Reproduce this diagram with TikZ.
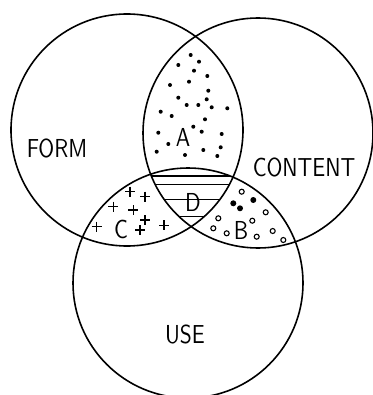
\documentclass[tikz,border=0pt]{standalone}
\usepackage{fontspec}
\newfontfamily\lettering[FakeStretch=0.83]{lmsans10-regular.otf}

\begin{document}
\begin{tikzpicture}[
        x=1pt,y=-1pt,
        ring/.style={line width=1.6pt},
        lbl/.style={font=\lettering\fontsize{26}{26}\selectfont,inner sep=0pt},
        hatch/.style={line width=1.7pt},
        cross/.style={line width=1.3pt},
        ringlet/.style={line width=1.1pt}
      ]
        \useasboundingbox (0,0) rectangle (372,395);
        \coordinate (form) at (127,130);
        \coordinate (content) at (258,133);
        \coordinate (use) at (188,283);
        % the three sets
        \draw[ring] (form) circle[radius=116];
        \draw[ring] (content) circle[radius=115];
        \draw[ring] (use) circle[radius=115];
        % region D: horizontal hatching
        \begin{scope}
          \clip (form) circle[radius=116];
          \clip (content) circle[radius=115];
          \clip (use) circle[radius=115];
          \foreach \y in {176,184.5,199.5,216.5}
            \draw[hatch] (130,\y) -- (250,\y);
        \end{scope}
        % region A: dots
        \foreach \x/\y in {190.7/55,199/61.7,178.3/65,194/70.7,207.3/76,189/81.7,
                           170/85,208.3/90.7,178.3/97.7,206.7/99.3,186.7/105,198.3/105,
                           211.7/107.3,227.3/108.3,160.7/111.7,171.7/116,205/119.3,
                           193.3/126.7,201.7/131.7,221.7/134,158.3/132.7,168.3/144,
                           220.7/147.3,156.7/151.7,185/155,203.3/150,217.3/156}
          \fill (\x,\y) circle[radius=2];
        % region C: crosses
        \foreach \x/\y in {130/191.7,145/196.7,113.3/206.7,133.3/210,145/220,
                           96.7/226.7,140/230,164/225.3}
          \draw[cross] (\x,\y) ++(-5,0) -- ++(10,0) (\x,\y) ++(0,-5) -- ++(0,10);
        % region B: small rings and blobs
        \foreach \x/\y in {241.7/191.7,265.7/212.3,218.3/218.3,252.3/220.7,213.3/228.3,
                           226.7/233.3,256.7/236.7,272.7/231,283.3/240}
          \draw[ringlet] (\x,\y) circle[radius=2.5];
        \foreach \x/\y in {253.3/200,233.3/203.3,240/208.3}
          \fill (\x,\y) circle[radius=3];
        % labels
        \node[lbl] (formlbl) at (57,148) {FORM};
        \node[lbl] (contentlbl) at (304,167) {CONTENT};
        \node[lbl] (uselbl) at (185,334) {USE};
        \node[lbl] (albl) at (183,137) {A};
        \node[lbl] (blbl) at (241,230) {B};
        \node[lbl] (clbl) at (121,229) {C};
        \node[lbl] (dlbl) at (193,202) {D};
      \end{tikzpicture}
\end{document}
